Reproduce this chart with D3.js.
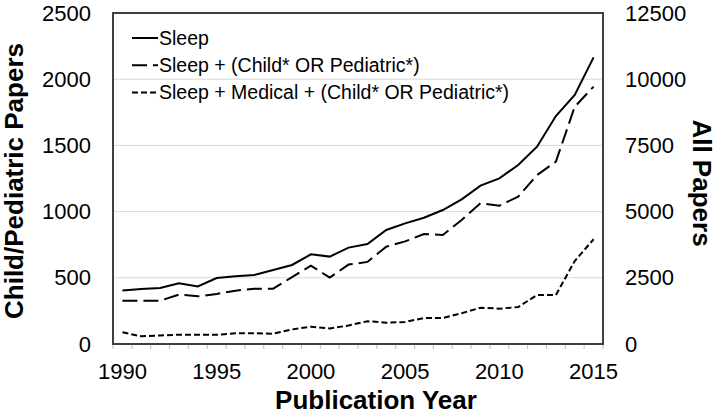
<!DOCTYPE html>
<meta charset="utf-8">
<script src="https://cdn.jsdelivr.net/npm/d3@7"></script>
<style>
  body { margin: 0; background: #fff; }
  text { font-family: "Liberation Sans", Arial, sans-serif; fill: #000; }
</style>
<div id="vis"></div>
<script>
// publication years
const years = d3.range(1990, 2016);

// "Sleep" - all papers (right axis)
const sleepAll = [2025, 2075, 2115, 2290, 2175, 2490, 2555, 2605, 2795, 2985,
  3385, 3300, 3640, 3775, 4305, 4555, 4770, 5060, 5465, 5980,
  6255, 6760, 7450, 8610, 9405, 10825];

// "Sleep + (Child* OR Pediatric*)" (left axis)
const sleepChild = [327, 327, 327, 373, 360, 378, 403, 418, 418, 505,
  592, 501, 600, 620, 735, 775, 831, 823, 937, 1063,
  1045, 1113, 1276, 1377, 1792, 1944];

// "Sleep + Medical + (Child* OR Pediatric*)" (left axis)
const sleepMedChild = [88, 58, 65, 70, 70, 70, 81, 82, 78, 110,
  131, 117, 140, 172, 161, 167, 196, 196, 232, 274,
  267, 279, 370, 370, 627, 791];

const leftTicks = [0, 500, 1000, 1500, 2000, 2500];
const rightTicks = [0, 2500, 5000, 7500, 10000, 12500];
const yearTicks = [1990, 1995, 2000, 2005, 2010, 2015];

const series = [
  {name: "Sleep", values: sleepAll, axis: "right", dash: null},
  {name: "Sleep + (Child* OR Pediatric*)", values: sleepChild, axis: "left", dash: "15,6"},
  {name: "Sleep + Medical + (Child* OR Pediatric*)", values: sleepMedChild, axis: "left", dash: "6,3"}
];

const width = 720, height = 414;
const plot = {left: 113, right: 603, top: 13, bottom: 344};

const svg = d3.select("#vis").append("svg")
  .attr("width", width)
  .attr("height", height);

const x = d3.scaleBand()
  .domain(years)
  .range([plot.left, plot.right]);

const yL = d3.scaleLinear()
  .domain([0, 2500])
  .range([plot.bottom, plot.top]);

const yR = d3.scaleLinear()
  .domain([0, 12500])
  .range([plot.bottom, plot.top]);

const cx = d => x(d) + x.bandwidth() / 2;

// gridlines
svg.append("g")
  .selectAll("line")
  .data(leftTicks.slice(1, -1))
  .enter()
  .append("line")
  .attr("x1", plot.left)
  .attr("x2", plot.right)
  .attr("y1", d => yL(d))
  .attr("y2", d => yL(d))
  .attr("stroke", "#d9d9d9")
  .attr("stroke-width", 1);

// small tick marks under the x axis at the category boundaries
svg.append("g")
  .selectAll("line")
  .data(d3.range(years.length + 1))
  .enter()
  .append("line")
  .attr("x1", i => plot.left + i * x.step())
  .attr("x2", i => plot.left + i * x.step())
  .attr("y1", plot.bottom)
  .attr("y2", plot.bottom + 5)
  .attr("stroke", "#bfbfbf")
  .attr("stroke-width", 1);

// axes
const fmt = d3.format("d");

const leftAxis = svg.append("g")
  .attr("transform", `translate(${plot.left},0)`)
  .call(d3.axisLeft(yL).tickValues(leftTicks).tickFormat(fmt).tickSize(0).tickPadding(22));

const rightAxis = svg.append("g")
  .attr("transform", `translate(${plot.right},0)`)
  .call(d3.axisRight(yR).tickValues(rightTicks).tickFormat(fmt).tickSize(0).tickPadding(22));

const bottomAxis = svg.append("g")
  .attr("transform", `translate(0,${plot.bottom})`)
  .call(d3.axisBottom(x).tickValues(yearTicks).tickFormat(fmt).tickSize(0).tickPadding(19));

[leftAxis, rightAxis, bottomAxis].forEach(g => {
  g.select(".domain").remove();
  g.selectAll("text")
    .style("font-family", '"Liberation Sans", Arial, sans-serif')
    .style("font-size", "22px")
    .attr("fill", "#000");
});

// lines
series.forEach(s => {
  const y = s.axis === "right" ? yR : yL;
  const line = d3.line()
    .x((d, i) => cx(years[i]))
    .y(d => y(d));
  svg.append("path")
    .datum(s.values)
    .attr("d", line)
    .attr("fill", "none")
    .attr("stroke", "#000")
    .attr("stroke-width", 2)
    .attr("stroke-dasharray", s.dash);
});

// plot frame
svg.append("rect")
  .attr("x", plot.left)
  .attr("y", plot.top)
  .attr("width", plot.right - plot.left)
  .attr("height", plot.bottom - plot.top)
  .attr("fill", "none")
  .attr("stroke", "#404040")
  .attr("stroke-width", 2);

// legend
const legend = svg.append("g")
  .selectAll("g")
  .data(series)
  .enter()
  .append("g")
  .attr("transform", (d, i) => `translate(132,${38 + i * 27.3})`);

legend.append("line")
  .attr("x1", 0)
  .attr("x2", 26)
  .attr("stroke", "#000")
  .attr("stroke-width", 2)
  .attr("stroke-dasharray", d => d.dash);

legend.append("text")
  .attr("x", 27)
  .attr("dy", "0.35em")
  .style("font-size", "19.5px")
  .text(d => d.name);

// axis titles
svg.append("text")
  .attr("transform", "translate(23,181) rotate(-90)")
  .attr("text-anchor", "middle")
  .style("font-size", "26px")
  .style("font-weight", "bold")
  .text("Child/Pediatric Papers");

svg.append("text")
  .attr("transform", "translate(693,183) rotate(90)")
  .attr("text-anchor", "middle")
  .style("font-size", "26px")
  .style("font-weight", "bold")
  .text("All Papers");

svg.append("text")
  .attr("x", 376)
  .attr("y", 409)
  .attr("text-anchor", "middle")
  .style("font-size", "26px")
  .style("font-weight", "bold")
  .text("Publication Year");
</script>
